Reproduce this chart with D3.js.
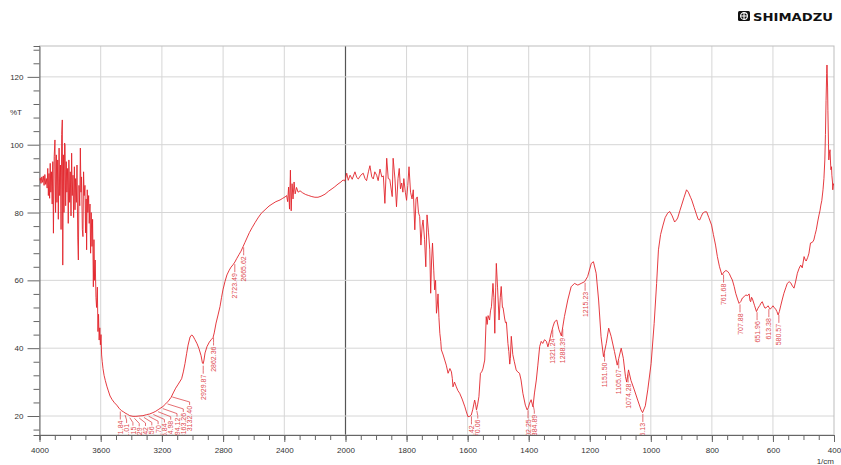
<!DOCTYPE html>
<html>
<head>
<meta charset="utf-8">
<script src="https://cdn.jsdelivr.net/npm/d3@7/dist/d3.min.js"></script>
<style>
  body { margin: 0; background: #fff; }
  svg { display: block; font-family: 'Liberation Sans', Arial, sans-serif; }
</style>
</head>
<body>
<div id="chart"></div>
<script>
// spectrum: [wavenumber (1/cm), %T]
const band4000to3600 = [
  [4000, 89.5], [3995, 90.2], [3990, 88.6], [3985, 90.5], [3980, 88.9], [3975, 90.8],
  [3970, 88.0], [3965, 91.2], [3960, 88.3], [3955, 90.0], [3950, 87.2], [3946, 93.0],
  [3942, 85.0], [3938, 91.5], [3934, 84.2], [3930, 94.5], [3926, 86.0], [3922, 92.0],
  [3917, 82.5], [3913, 95.0], [3909, 73.9], [3904, 96.5], [3899, 101.4], [3895, 80.0],
  [3890, 97.0], [3886, 83.0], [3881, 95.5], [3877, 78.0], [3872, 99.0], [3868, 85.0],
  [3863, 94.0], [3859, 75.0], [3855, 103.0], [3851, 107.3], [3848, 64.5], [3844, 97.0],
  [3840, 80.0], [3836, 100.5], [3833, 99.9], [3829, 82.0], [3825, 95.0], [3821, 86.0],
  [3816, 93.0], [3812, 76.8], [3808, 95.5], [3803, 83.0], [3799, 92.0], [3794, 79.0],
  [3790, 97.5], [3786, 85.0], [3781, 91.0], [3777, 78.5], [3772, 93.5], [3768, 80.8],
  [3764, 90.0], [3759, 83.0], [3755, 94.0], [3750, 72.5], [3746, 66.0], [3742, 88.0],
  [3737, 82.0], [3733, 99.0], [3729, 86.0], [3725, 90.5], [3720, 75.0], [3716, 72.9],
  [3712, 92.0], [3708, 85.0], [3703, 88.0], [3699, 74.0], [3695, 84.0], [3692, 69.0],
  [3688, 86.7], [3684, 80.0], [3679, 85.0], [3675, 76.8], [3670, 82.5], [3666, 68.0],
  [3662, 80.0], [3657, 70.0], [3653, 78.0], [3648, 58.1], [3644, 72.0], [3640, 60.0],
  [3636, 66.0], [3631, 55.0], [3627, 52.0], [3622, 58.0], [3618, 44.9], [3614, 50.0],
  [3610, 42.4], [3606, 46.0], [3602, 41.0]
];

const band3600to2000 = [
  [3598, 44.0], [3594, 38.0], [3590, 36.0], [3585, 34.0], [3578, 32.0], [3570, 30.5],
  [3560, 28.8], [3550, 27.4], [3539, 25.9], [3525, 24.8], [3510, 23.9], [3495, 23.2],
  [3480, 22.3], [3465, 21.6], [3450, 21.2], [3441, 20.9], [3425, 20.5], [3410, 20.1],
  [3389, 19.9], [3370, 19.9], [3350, 20.0], [3324, 20.1], [3300, 20.4], [3280, 20.6],
  [3258, 21.0], [3240, 21.4], [3220, 22.0], [3193, 22.8], [3175, 23.6], [3158, 24.4],
  [3140, 25.5], [3126, 26.8], [3110, 28.2], [3093, 29.4], [3071, 31.0], [3060, 33.0],
  [3049, 35.5], [3038, 38.5], [3029, 40.9], [3016, 43.3], [3005, 43.9], [2997, 43.6],
  [2985, 42.6], [2970, 41.3], [2958, 39.9], [2944, 37.8], [2935, 35.6], [2930, 35.4],
  [2925, 36.5], [2918, 38.6], [2905, 40.5], [2890, 41.8], [2876, 42.6], [2866, 43.1],
  [2858, 44.5], [2846, 47.4], [2833, 49.8], [2820, 52.3], [2810, 55.0], [2801, 57.2],
  [2788, 59.6], [2775, 61.6], [2760, 63.0], [2748, 63.9], [2735, 64.6], [2723, 65.4],
  [2710, 66.5], [2696, 67.6], [2683, 68.6], [2670, 69.9], [2657, 71.2], [2644, 72.5],
  [2628, 74.1], [2611, 75.5], [2590, 77.1], [2572, 78.4], [2550, 79.8], [2526, 80.8],
  [2500, 81.9], [2480, 82.5], [2455, 83.2], [2428, 83.7], [2410, 84.2], [2395, 84.6],
  [2385, 85.0], [2378, 83.2], [2372, 87.5], [2366, 81.0], [2360, 92.5], [2355, 80.5],
  [2349, 88.5], [2343, 84.0], [2336, 89.0], [2329, 85.5], [2320, 87.4], [2310, 86.0],
  [2297, 86.4], [2280, 85.8], [2260, 85.3], [2240, 85.0], [2220, 84.7], [2200, 84.5],
  [2180, 84.5], [2160, 84.8], [2134, 85.4], [2110, 86.3], [2088, 87.0], [2070, 87.6],
  [2049, 88.4], [2030, 89.0], [2016, 89.6], [2005, 89.3], [2000, 90.0]
];

const band2000to1430 = [
  [1996, 91.6], [1991, 89.5], [1985, 91.0], [1978, 89.8], [1969, 92.0], [1963, 90.3],
  [1958, 89.9], [1950, 91.0], [1942, 91.6], [1936, 90.0], [1931, 89.4], [1925, 92.0],
  [1920, 93.8], [1914, 90.5], [1909, 89.9], [1904, 92.0], [1898, 91.0], [1893, 89.4],
  [1887, 92.8], [1881, 90.5], [1876, 90.8], [1871, 82.7], [1865, 96.0], [1860, 90.0],
  [1855, 89.8], [1847, 84.7], [1844, 96.0], [1838, 89.9], [1833, 81.7], [1828, 90.0],
  [1824, 93.0], [1820, 87.0], [1816, 88.7], [1812, 86.0], [1809, 90.0], [1804, 86.0],
  [1800, 83.6], [1796, 88.0], [1792, 93.5], [1787, 86.0], [1782, 84.0], [1778, 86.7],
  [1773, 74.9], [1769, 84.0], [1765, 84.6], [1761, 80.0], [1757, 78.8], [1753, 70.4],
  [1749, 76.0], [1746, 77.8], [1741, 72.0], [1737, 64.0], [1733, 79.3], [1728, 74.0],
  [1724, 69.0], [1721, 56.2], [1718, 66.0], [1715, 71.0], [1711, 63.0], [1708, 57.2],
  [1705, 60.0], [1702, 50.3], [1699, 53.0], [1697, 56.0], [1694, 49.0], [1691, 44.4],
  [1688, 42.0], [1686, 39.5], [1680, 38.0], [1675, 36.5], [1670, 35.0], [1664, 32.6],
  [1658, 34.0], [1653, 33.0], [1650, 31.0], [1648, 28.6], [1643, 30.0], [1637, 28.6],
  [1632, 27.5], [1626, 26.7], [1618, 25.0], [1609, 22.7], [1604, 21.2], [1599, 19.8],
  [1593, 19.9], [1588, 20.3], [1583, 22.0], [1577, 24.7], [1574, 23.5], [1571, 21.8],
  [1567, 23.5], [1563, 25.7], [1558, 32.6], [1554, 33.0], [1550, 33.9], [1544, 36.5],
  [1539, 49.3], [1536, 47.0], [1533, 49.6], [1528, 48.3], [1525, 51.0], [1522, 52.2],
  [1517, 59.1], [1514, 55.0], [1511, 44.4], [1508, 58.0], [1506, 65.0], [1502, 58.0],
  [1497, 48.3], [1493, 55.0], [1490, 58.2], [1486, 52.0], [1484, 52.0], [1479, 48.9],
  [1476, 47.5], [1473, 47.7], [1468, 41.4], [1465, 39.0], [1462, 35.3], [1460, 37.0],
  [1457, 43.5], [1452, 38.1], [1447, 36.0], [1441, 33.6], [1436, 33.0], [1430, 32.6]
];

const band1430to400 = [
  [1425, 30.6], [1419, 26.7], [1411, 23.2], [1405, 21.8], [1401, 22.5], [1397, 23.8],
  [1392, 24.8], [1386, 22.7], [1381, 26.8], [1375, 30.6], [1370, 35.0], [1364, 40.5],
  [1359, 42.0], [1354, 41.4], [1348, 42.5], [1342, 42.0], [1337, 40.4], [1331, 42.5],
  [1326, 44.5], [1320, 46.5], [1315, 47.8], [1308, 48.3], [1301, 45.5], [1293, 43.6],
  [1288, 46.5], [1283, 49.3], [1272, 54.2], [1261, 58.1], [1250, 59.1], [1239, 58.6],
  [1228, 59.1], [1217, 59.6], [1207, 61.1], [1195, 65.0], [1188, 65.5], [1179, 62.1],
  [1171, 54.2], [1163, 43.4], [1155, 37.5], [1146, 41.4], [1138, 45.9], [1130, 43.5],
  [1119, 39.0], [1110, 35.0], [1105, 37.0], [1097, 40.0], [1090, 37.0], [1083, 31.6],
  [1079, 30.0], [1073, 33.6], [1065, 30.5], [1054, 27.7], [1043, 24.7], [1032, 21.8],
  [1027, 21.0], [1018, 23.0], [1010, 27.7], [999, 35.5], [989, 47.3], [981, 59.1],
  [975, 69.0], [968, 73.5], [960, 76.3], [953, 78.5], [945, 79.8], [938, 80.3],
  [930, 79.0], [922, 77.2], [916, 77.8], [912, 78.4], [905, 80.5], [899, 82.2],
  [891, 84.5], [883, 86.7], [877, 86.0], [870, 84.5], [866, 83.7], [858, 81.5],
  [850, 79.3], [845, 78.0], [840, 77.8], [835, 78.8], [830, 79.8], [823, 80.2],
  [817, 80.2], [810, 78.5], [801, 76.3], [795, 73.5], [788, 70.4], [782, 67.0],
  [775, 64.0], [767, 61.6], [760, 62.5], [754, 62.9], [748, 62.6], [743, 62.0],
  [738, 61.0], [733, 60.1], [727, 58.2], [722, 56.2], [716, 54.5], [711, 53.2],
  [705, 53.8], [700, 54.8], [694, 55.2], [689, 55.7], [683, 55.5], [678, 56.0],
  [675, 54.0], [673, 53.7], [670, 55.0], [667, 54.5], [660, 52.5], [654, 50.8],
  [649, 51.8], [643, 52.6], [639, 53.3], [635, 53.7], [630, 52.5], [626, 51.8],
  [621, 52.0], [616, 52.5], [612, 51.9], [609, 51.5], [604, 52.0], [600, 52.5],
  [595, 51.9], [591, 51.5], [587, 50.8], [583, 49.8], [579, 50.8], [574, 52.7],
  [569, 54.5], [564, 56.2], [558, 57.8], [553, 59.1], [547, 59.6], [542, 59.3],
  [536, 58.3], [531, 57.7], [526, 59.5], [520, 62.1], [514, 63.6], [509, 64.5],
  [504, 63.7], [498, 67.0], [494, 66.0], [491, 65.7], [486, 66.8], [482, 68.0],
  [477, 71.0], [471, 71.2], [466, 71.9], [462, 73.5], [458, 74.9], [453, 77.5],
  [449, 79.3], [446, 80.5], [443, 82.2], [440, 83.5], [436, 86.7], [433, 90.0],
  [430, 95.5], [428, 103.0], [426, 113.0], [424, 121.0], [423, 123.5], [421, 117.0],
  [420, 110.0], [418, 100.0], [417, 95.5], [415, 97.5], [413, 98.5], [411, 94.0],
  [410, 92.6], [408, 93.5], [407, 91.0], [405, 89.0], [404, 86.7], [402, 88.5],
  [400, 88.0]
];

// picked peaks (1/cm)
const peakWavenumbers = [
  3471.84, 3441.01, 3410.15, 3379.29, 3348.42, 3317.56, 3286.70, 3255.84,
  3224.98, 3194.12, 3163.26, 3132.40,
  2929.87, 2862.36, 2723.49, 2665.62,
  1587.42, 1570.06, 1402.25, 1384.89, 1321.24, 1288.39, 1215.23,
  1151.50, 1105.07, 1074.28, 1026.13,
  761.68, 707.88, 651.96, 613.38, 580.57
];

const xTickLabels = [4000, 3600, 3200, 2800, 2400, 2000, 1800, 1600, 1400, 1200, 1000, 800, 600, 400];
const yTickLabels = [20, 40, 60, 80, 100, 120];

const width = 841;
const height = 465;
const plot = { left: 39.5, right: 834, top: 46, bottom: 435 };
const red = '#e2252b';
const labelRed = '#de4a4f';

const spectrum = [...band4000to3600, ...band3600to2000, ...band2000to1430, ...band1430to400];

const svg = d3
  .select('#chart')
  .append('svg')
  .attr('width', width)
  .attr('height', height);

// IR chart: x axis is expanded x2 below 2000 1/cm
const x = d3
  .scaleLinear()
  .domain([4000, 2000, 400])
  .range([plot.left, 345.5, plot.right]);

const y = d3
  .scaleLinear()
  .domain([14.4, 129.1])
  .range([plot.bottom, plot.top]);

svg
  .append('defs')
  .append('clipPath')
  .attr('id', 'plot-clip')
  .append('rect')
  .attr('x', plot.left)
  .attr('y', plot.top)
  .attr('width', plot.right - plot.left)
  .attr('height', plot.bottom - plot.top);

// grid
const grid = svg.append('g');
grid
  .selectAll('.vgrid')
  .data(xTickLabels.filter((d) => d !== 4000 && d !== 400))
  .join('line')
  .attr('x1', (d) => x(d))
  .attr('x2', (d) => x(d))
  .attr('y1', plot.top)
  .attr('y2', plot.bottom)
  .attr('stroke', (d) => (d === 2000 ? '#555' : '#d6d6d6'))
  .attr('stroke-width', (d) => (d === 2000 ? 1.2 : 1));

grid
  .selectAll('.hgrid')
  .data(yTickLabels)
  .join('line')
  .attr('x1', plot.left)
  .attr('x2', plot.right)
  .attr('y1', (d) => y(d))
  .attr('y2', (d) => y(d))
  .attr('stroke', '#d6d6d6');

// frame
svg
  .append('rect')
  .attr('x', plot.left)
  .attr('y', plot.top)
  .attr('width', plot.right - plot.left)
  .attr('height', plot.bottom - plot.top)
  .attr('fill', 'none')
  .attr('stroke', '#bdbdbd');

// x axis
const xMinor = d3.range(4000, 2000, -100).concat(d3.range(2000, 399, -50));
const xAxis = svg
  .append('g')
  .attr('transform', `translate(0,${plot.bottom})`)
  .call(
    d3
      .axisBottom(x)
      .tickValues(xMinor)
      .tickSize(5)
      .tickFormat('')
  );
xAxis.select('.domain').attr('stroke', '#666');
xAxis.selectAll('.tick line').attr('stroke', '#666');

const xLabels = svg
  .append('g')
  .attr('transform', `translate(0,${plot.bottom})`)
  .call(
    d3
      .axisBottom(x)
      .tickValues(xTickLabels)
      .tickSize(7)
      .tickPadding(5)
      .tickFormat(d3.format('d'))
  );
xLabels.select('.domain').remove();
xLabels.selectAll('.tick line').attr('stroke', '#666');
xLabels
  .selectAll('.tick text')
  .attr('fill', '#333')
  .style('font-size', '8px')
  .style('font-family', "'Liberation Sans', Arial, sans-serif");

// y axis
const yAxis = svg
  .append('g')
  .attr('transform', `translate(${plot.left},0)`)
  .call(
    d3
      .axisLeft(y)
      .tickValues(d3.range(16, 129, 4).filter((d) => d % 20 !== 0))
      .tickSize(6)
      .tickFormat('')
  );
yAxis.select('.domain').attr('stroke', '#666');
yAxis.selectAll('.tick line').attr('stroke', '#666');

const yLabels = svg
  .append('g')
  .attr('transform', `translate(${plot.left},0)`)
  .call(d3.axisLeft(y).tickValues(yTickLabels).tickSize(12).tickPadding(4));
yLabels.select('.domain').remove();
yLabels.selectAll('.tick line').attr('stroke', '#666');
yLabels
  .selectAll('.tick text')
  .attr('fill', '#333')
  .style('font-size', '8px')
  .style('font-family', "'Liberation Sans', Arial, sans-serif");

svg
  .append('text')
  .attr('x', 10)
  .attr('y', 115)
  .attr('fill', '#333')
  .style('font-size', '8px')
  .text('%T');

svg
  .append('text')
  .attr('x', 834)
  .attr('y', 464)
  .attr('text-anchor', 'end')
  .attr('fill', '#333')
  .style('font-size', '8px')
  .text('1/cm');

// spectrum
const line = d3
  .line()
  .x((d) => x(d[0]))
  .y((d) => y(d[1]));

svg
  .append('path')
  .datum(spectrum)
  .attr('clip-path', 'url(#plot-clip)')
  .attr('fill', 'none')
  .attr('stroke', red)
  .attr('stroke-width', 0.9)
  .attr('stroke-linejoin', 'round')
  .attr('d', line);

// peak labels
const asc = spectrum.slice().sort((a, b) => a[0] - b[0]);
const bis = d3.bisector((d) => d[0]).left;
const valueAt = (wn) => {
  const i = Math.max(1, Math.min(asc.length - 1, bis(asc, wn)));
  const a = asc[i - 1];
  const b = asc[i];
  const t = (wn - a[0]) / (b[0] - a[0]);
  return a[1] + t * (b[1] - a[1]);
};

const peaks = peakWavenumbers
  .map((wn) => ({ wn, px: x(wn), py: y(valueAt(wn)) }))
  .sort((a, b) => a.px - b.px);

// keep labels at least 6.3px apart
peaks.forEach((p, i) => {
  p.lx = i === 0 ? p.px : Math.max(p.px, peaks[i - 1].lx + 6.3);
});

const leader = 10;
const labels = svg.append('g').attr('clip-path', 'url(#plot-clip)');

labels
  .selectAll('path')
  .data(peaks)
  .join('path')
  .attr('fill', 'none')
  .attr('stroke', labelRed)
  .attr('stroke-width', 0.8)
  .attr(
    'd',
    (d) =>
      `M${d.px},${d.py + 2}L${d.lx},${d.py + leader - 3}L${d.lx},${d.py + leader}`
  );

labels
  .selectAll('text')
  .data(peaks)
  .join('text')
  .attr('transform', (d) => `translate(${d.lx + 2.6},${d.py + leader + 1}) rotate(-90)`)
  .attr('text-anchor', 'end')
  .attr('fill', labelRed)
  .style('font-size', '7px')
  .text((d) => d.wn.toFixed(2));

// maker logo
const logo = svg.append('g').attr('transform', 'translate(738,11)');
logo
  .append('rect')
  .attr('width', 12)
  .attr('height', 10)
  .attr('rx', 1.5)
  .attr('fill', '#111');
logo
  .append('circle')
  .attr('cx', 6)
  .attr('cy', 5)
  .attr('r', 3.4)
  .attr('fill', 'none')
  .attr('stroke', '#fff')
  .attr('stroke-width', 1.1);
logo
  .append('path')
  .attr('d', 'M6,1.6V8.4M2.6,5H9.4')
  .attr('stroke', '#fff')
  .attr('stroke-width', 1.1);
logo
  .append('text')
  .attr('x', 15)
  .attr('y', 9.5)
  .attr('textLength', 80)
  .attr('lengthAdjust', 'spacingAndGlyphs')
  .attr('fill', '#111')
  .style('font-size', '11px')
  .style('font-weight', 900)
  .style('font-family', "'DejaVu Sans', sans-serif")
  .text('SHIMADZU');
</script>
</body>
</html>
